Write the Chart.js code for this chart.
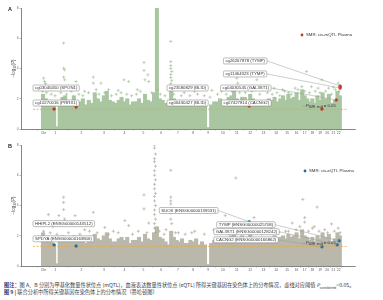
<!DOCTYPE html>
<html>
<head>
<meta charset="utf-8">
<script src="https://cdn.jsdelivr.net/npm/chart.js@4.4.1/dist/chart.umd.min.js"></script>
<style>
  body { margin: 0; width: 383px; height: 300px; background: #fff; overflow: hidden; position: relative; }
  canvas { position: absolute; left: 0; }
  #chartA { top: 0; }
  #chartB { top: 137px; }
  .cap { position: absolute; left: 4px; white-space: nowrap; font-family: 'Noto Sans CJK SC', sans-serif;
         font-size: 10.4px; line-height: 12px; transform: scale(0.5); transform-origin: 0 0; color: #3a3a3a; }
  .cap b { color: #1d3f73; font-weight: 700; }
  .cap sub { font-size: 7px; }
</style>
</head>
<body>
<canvas id="chartA" width="383" height="137"></canvas>
<canvas id="chartB" width="383" height="137"></canvas>
<div class="cap" style="top:282px"><b>图注：</b>图 A、B 分别为甲基化数量性状位点 (mQTL)，血液表达数量性状位点 (eQTL) 所得关键基因在染色体上的分布情况，虚线对应阈值 <i>P</i><sub>combined</sub>=0.05。</div>
<div class="cap" style="top:289px"><b>图 9 |</b> 联合分析中所得关键基因在染色体上的分布情况（曼哈顿图）</div>

<script>
// Chromosome layout (cumulative genome position, arbitrary units)
const chromNames = ['1','2','3','4','5','6','7','8','9','10','11','12','13','14','15','16','17','18','19','20','21','22'];
const chromStart = [0, 29, 54, 76, 97, 116, 134, 151, 166, 182, 197, 211, 225, 239, 251, 262, 271, 279, 287, 295, 302, 308];
const chromEnd = 313;
const yTicks = [0, 2, 4, 6, 8];
const threshold = 1.3;   // -log10(0.05)

// Panel A: dense mQTL mass, max -log10(P) per bin, per chromosome
const massA = [
    [2.3, 2.0, 1.8, 1.9, 1.5, 0.15, 1.8, 2.1, 2.2, 1.9],
    [1.9, 2.2, 1.7, 1.8, 2.0, 1.6, 1.9, 1.7],
    [2.4, 2.0, 1.8, 2.2, 2.5, 1.9, 1.8],
    [1.7, 1.9, 2.1, 1.8, 2.0, 1.6, 1.8],
    [1.8, 2.0, 1.7, 2.3, 1.9, 1.8],
    [2.4, 8.0, 2.0, 1.9, 1.7, 1.5],
    [2.6, 2.0, 1.8, 1.7, 1.9, 1.6],
    [1.6, 1.8, 1.7, 1.9, 1.5],
    [1.7, 1.5, 0.1, 1.6, 1.8],
    [1.8, 2.0, 1.7, 1.9, 2.1],
    [2.2, 2.6, 2.0, 1.9, 2.1],
    [2.1, 1.9, 2.3, 2.0, 1.8],
    [1.7, 1.9, 1.6, 1.8, 2.0],
    [1.9, 2.1, 1.8, 2.0],
    [2.2, 1.9, 2.3, 2.0],
    [2.1, 2.4, 1.9],
    [2.6, 2.2, 2.0],
    [1.8, 2.0, 1.7],
    [2.2, 1.9, 2.4],
    [2.0, 2.3],
    [1.7, 1.9],
    [2.5, 2.2]
];
// Panel A: individual CpG sites above the mass
const crossA = [
    [2,3.36],[3,3.14],[4,3.0],[7,2.6],[18,2.6],[23,5.68],[23,4.02],[24,3.91],[23,3.43],[24,3.25],
    [36,3.14],[45,2.5],[54,3.43],[54,3.03],[62,3.03],[70,2.6],[80,2.55],[86,3.25],[91,3.14],[100,2.6],
    [107,4.4],[107,3.87],[108,3.25],[112,3.14],[111,3.58],[135,5.79],[135,4.46],[135,4.2],[135,4.0],[136,3.8],
    [135,3.6],[135,3.4],[136,3.2],[135,3.0],[140,2.6],[152,2.8],[160,2.5],[178,2.55],[195,2.6],[204,3.36],
    [205,3.03],[210,2.7],[225,3.25],[232,2.6],[243,2.7],[252,2.6],[265,2.7],[277,3.8],[282,2.8],[293,3.25],
    [300,2.7],[305,2.76],[310,3.03],
    [1,2.5],[5,2.4],[10,2.3],[14,2.2],[20,2.4],[26,2.3],[31,2.5],[39,2.3],[43,2.2],[49,2.4],
    [57,2.6],[60,2.3],[66,2.4],[73,2.2],[78,2.3],[83,2.4],[89,2.3],[94,2.2],[99,2.3],[103,2.5],
    [115,2.4],[121,2.6],[124,2.3],[129,2.2],[138,2.3],[146,2.2],[149,2.4],[155,2.2],[163,2.3],[170,2.2],
    [176,2.1],[184,2.3],[188,2.5],[193,2.3],[199,2.5],[201,2.8],[207,2.4],[213,2.4],[216,2.6],[220,2.5],
    [228,2.3],[236,2.4],[241,2.3],[246,2.4],[249,2.2],[254,2.5],[258,2.4],[261,2.3],[268,2.6],[272,2.8],
    [275,2.5],[280,2.4],[286,2.5],[289,2.7],[291,2.4],[297,2.5],[303,2.3],[307,2.6],[311,2.5]
];
// Panel A: SMR significant CpGs
const hitsA = [[13,1.32],[36,1.45],[217,1.52],[293,1.32],[308,1.92],[312,2.84],[312,2.78],[312,2.71]];
const notesA = [
    { text: 'cg03046450 (SPON1)',   x: -9,  y: 2.71 },
    { text: 'cg10270016 (PRRX1)',   x: -9,  y: 1.72 },
    { text: 'cg23580829 (BLID)',    x: 131, y: 2.71 },
    { text: 'cg06430427 (BLID)',    x: 131, y: 1.72 },
    { text: 'cg26267878 (TYMP)',    x: 190, y: 4.5,  to: [312, 2.84] },
    { text: 'cg11464323 (TYMP)',    x: 190, y: 3.64, to: [312, 2.71] },
    { text: 'cg04030545 (GAL3ST1)', x: 187, y: 2.71, to: [308, 1.92] },
    { text: 'cg07427814 (CACNG2)',  x: 188, y: 1.72 }
];

// Panel B: dense eQTL mass
const massB = [
    [2.2, 1.9, 1.7, 1.8, 1.4, 0.15, 1.7, 2.0, 1.9, 1.8],
    [1.8, 2.0, 1.6, 1.7, 1.9, 1.5, 1.8, 1.6],
    [2.1, 1.8, 1.7, 2.0, 2.2, 1.8, 1.6],
    [1.6, 1.8, 1.9, 1.7, 1.9, 1.5, 1.7],
    [1.7, 1.9, 1.6, 2.1, 1.8, 1.7],
    [2.2, 2.6, 1.9, 1.8, 1.6, 1.4],
    [2.3, 1.9, 1.7, 1.6, 1.8, 1.5],
    [1.5, 1.7, 1.6, 1.8, 1.4],
    [1.6, 1.4, 0.1, 1.5, 1.7],
    [1.7, 1.9, 1.6, 1.8, 1.9],
    [2.0, 2.3, 1.9, 1.8, 2.0],
    [1.9, 1.8, 2.1, 1.9, 1.7],
    [1.6, 1.8, 1.5, 1.7, 1.9],
    [1.8, 2.0, 1.7, 1.9],
    [2.0, 1.8, 2.1, 1.9],
    [2.0, 2.2, 1.8],
    [2.4, 2.0, 1.9],
    [1.7, 1.9, 1.6],
    [2.0, 1.8, 2.2],
    [1.9, 2.1],
    [1.6, 1.8],
    [2.2, 2.0]
];
const crossB = [
    [7,3.4],[18,3.33],[23,4.55],[23,4.2],[23,3.73],[24,3.1],[35,3.33],[12,2.6],[54,3.55],[66,2.55],
    [87,3.0],[91,2.67],[107,4.7],[107,3.78],[112,2.84],
    [118,8.0],[118,7.8],[119,7.4],[118,7.1],[118,6.9],[119,6.6],[118,6.3],[118,6.0],[119,5.7],[118,5.4],
    [118,5.1],[119,4.8],[118,4.6],[118,4.3],[119,4.0],[118,3.7],[118,3.4],[119,3.1],[118,2.8],[118,2.5],[119,2.2],
    [135,6.33],[135,4.55],[135,4.3],[135,4.1],[136,3.8],[135,3.5],[135,3.1],[136,2.8],[143,2.2],[192,3.33],
    [203,5.82],[222,3.2],[262,2.84],[273,4.4],[275,3.2],[275,2.9],[288,3.9],[303,2.78],[312,2.2],
    [45,2.4],[75,2.3],[130,2.4],[160,2.3],[180,2.4],[240,2.5],[255,2.3],[285,2.6],[296,2.4],
    [2,2.3],[9,2.2],[16,2.1],[28,2.2],[40,2.1],[50,2.3],[58,2.2],[70,2.1],[80,2.2],[95,2.1],
    [101,2.3],[110,2.2],[123,2.3],[128,2.1],[140,2.2],[150,2.1],[157,2.2],[170,2.1],[186,2.2],[196,2.1],
    [200,2.4],[208,2.2],[214,2.3],[230,2.1],[236,2.2],[248,2.2],[258,2.3],[266,2.4],[270,2.6],[279,2.3],
    [283,2.5],[290,2.3],[299,2.2],[306,2.3],[310,2.5]
];
const hitsB = [[13,1.4],[36,1.33],[217,2.93],[293,1.27],[309,1.4],[311,1.67]];
const notesB = [
    { text: 'HHIPL2 (ENSG00000143512)',  x: -9,  y: 2.8 },
    { text: 'SPDYA (ENSG00000163806)',   x: -9,  y: 1.8 },
    { text: 'SUOX (ENSG00000139531)',    x: 123, y: 3.67, to: [217, 2.93] },
    { text: 'TYMP (ENSG00000025708)',    x: 183, y: 2.73, to: [311, 1.67] },
    { text: 'GAL3ST1 (ENSG00000128242)', x: 180, y: 2.27, to: [309, 1.4] },
    { text: 'CACNG2 (ENSG00000166862)',  x: 180, y: 1.73, to: [293, 1.27] }
];

// x tick positions: "Chr" at the start, then chromosome centres
const tickValues = [2].concat(chromStart.map((s, i) => (s + (chromStart[i + 1] || chromEnd)) / 2));
const tickLabels = ['Chr'].concat(chromNames);

function buildMass(heights) {
    const pts = [];
    heights.forEach((arr, c) => {
        const s = chromStart[c], e = chromStart[c + 1] || chromEnd;
        const w = (e - s) / arr.length;
        arr.forEach((h, j) => pts.push({ x: s + (j + 0.5) * w, y: h }));
    });
    return pts;
}
const toPts = arr => arr.map(p => ({ x: p[0], y: p[1] }));

const FONT = '"Liberation Sans", Arial, sans-serif';

function overlay(cfg) {
    return {
        id: 'overlay',
        afterDatasetsDraw(chart) {
            const { ctx, chartArea: ca, scales: { x, y } } = chart;
            ctx.save();
            // connector lines
            ctx.font = `4.3px ${FONT}`;
            ctx.strokeStyle = '#9a9a9a';
            ctx.lineWidth = 0.5;
            cfg.notes.forEach(n => {
                if (!n.to) return;
                const w = ctx.measureText(n.text).width + 4;
                ctx.beginPath();
                ctx.moveTo(x.getPixelForValue(n.x) + w, y.getPixelForValue(n.y));
                ctx.lineTo(x.getPixelForValue(n.to[0]), y.getPixelForValue(n.to[1]));
                ctx.stroke();
            });
            // label boxes
            cfg.notes.forEach(n => {
                const w = ctx.measureText(n.text).width + 4;
                const bx = x.getPixelForValue(n.x), by = y.getPixelForValue(n.y);
                ctx.beginPath();
                ctx.roundRect(bx, by - 3, w, 6, 1.2);
                ctx.fillStyle = '#fff';
                ctx.fill();
                ctx.strokeStyle = '#7a7a7a';
                ctx.stroke();
                ctx.fillStyle = '#333';
                ctx.textBaseline = 'middle';
                ctx.fillText(n.text, bx + 2, by + 0.3);
            });
            // threshold label
            let tx = x.getPixelForValue(276), ty = y.getPixelForValue(1.55);
            ctx.strokeStyle = '#8a8a8a';
            ctx.beginPath(); ctx.moveTo(tx - 3, ty + 0.5); ctx.lineTo(tx - 0.5, ty + 0.5); ctx.stroke();
            ctx.fillStyle = '#333';
            ctx.font = `italic 4.3px ${FONT}`;
            ctx.fillText('P', tx, ty);
            tx += ctx.measureText('P').width;
            ctx.font = `3px ${FONT}`;
            ctx.fillText('SMR_multi', tx, ty + 1.3);
            tx += ctx.measureText('SMR_multi').width + 0.6;
            ctx.font = `4.3px ${FONT}`;
            ctx.fillText('= 0.05', tx, ty);
            // legend
            ctx.fillStyle = cfg.hitColor;
            ctx.beginPath(); ctx.arc(cfg.legend[0], cfg.legend[1], 1.4, 0, Math.PI * 2); ctx.fill();
            ctx.fillStyle = '#333';
            ctx.font = `4.3px ${FONT}`;
            ctx.fillText(cfg.legendText, cfg.legend[0] + 4, cfg.legend[1] + 0.3);
            // panel letter
            ctx.font = `bold 5.5px ${FONT}`;
            ctx.fillStyle = '#222';
            ctx.fillText(cfg.letter, 8, 9);
            // y title: -log10(P)
            ctx.translate(14, (ca.top + ca.bottom) / 2);
            ctx.rotate(-Math.PI / 2);
            ctx.font = `4.5px ${FONT}`;
            const parts = [['−log', `4.5px ${FONT}`, 0], ['10', `3px ${FONT}`, 1.2], ['(', `4.5px ${FONT}`, 0], ['P', `italic 4.5px ${FONT}`, 0], [')', `4.5px ${FONT}`, 0]];
            let total = 0;
            parts.forEach(p => { ctx.font = p[1]; total += ctx.measureText(p[0]).width; });
            let px = -total / 2;
            ctx.fillStyle = '#444';
            parts.forEach(p => { ctx.font = p[1]; ctx.fillText(p[0], px, p[2]); px += ctx.measureText(p[0]).width; });
            ctx.restore();
        }
    };
}

function makeChart(id, mass, crosses, hits, cfg) {
    return new Chart(document.getElementById(id), {
        type: 'scatter',
        data: {
            datasets: [
                {
                    type: 'bar',
                    data: buildMass(mass),
                    backgroundColor: cfg.massColor,
                    borderWidth: 0,
                    barThickness: 3.4,
                    order: 4
                },
                {
                    data: toPts(crosses),
                    pointStyle: 'cross',
                    pointRadius: 1.6,
                    borderWidth: 0.6,
                    borderColor: cfg.crossColor,
                    order: 3
                },
                {
                    type: 'line',
                    data: [{ x: -9, y: threshold }, { x: 320, y: threshold }],
                    borderColor: '#f0a430',
                    borderWidth: 0.8,
                    borderDash: [2, 1.5],
                    pointRadius: 0,
                    order: 2
                },
                {
                    data: toPts(hits),
                    pointStyle: 'circle',
                    pointRadius: 1.5,
                    backgroundColor: cfg.hitColor,
                    borderColor: cfg.hitColor,
                    borderWidth: 0.3,
                    order: 1
                }
            ]
        },
        options: {
            responsive: false,
            animation: false,
            devicePixelRatio: 1,
            layout: { padding: { left: 0, right: 28, top: 8, bottom: 0 } },
            plugins: { legend: { display: false }, tooltip: { enabled: false } },
            scales: {
                x: {
                    type: 'linear',
                    min: -14,
                    max: 320,
                    afterBuildTicks: s => { s.ticks = tickValues.map(v => ({ value: v })); },
                    afterFit: s => { s.height = 8; },
                    grid: { drawOnChartArea: false, drawTicks: true, tickLength: 1.5, color: '#777', lineWidth: 0.5 },
                    border: { color: '#666', width: 0.8 },
                    ticks: {
                        callback: (v, i) => tickLabels[i],
                        autoSkip: false,
                        maxRotation: 0,
                        padding: 1,
                        color: '#555',
                        font: { size: 3.3, family: FONT }
                    }
                },
                y: {
                    min: 0,
                    max: 8,
                    afterBuildTicks: s => { s.ticks = yTicks.map(v => ({ value: v })); },
                    afterFit: s => { s.width = 21; },
                    grid: { drawOnChartArea: false, drawTicks: true, tickLength: 1.5, color: '#777', lineWidth: 0.5 },
                    border: { color: '#666', width: 0.8 },
                    ticks: { padding: 1, color: '#666', font: { size: 3.2, family: FONT } }
                }
            }
        },
        plugins: [overlay(cfg)]
    });
}

makeChart('chartA', massA, crossA, hitsA, {
    massColor: '#a9c6a1', crossColor: '#9bbd92', hitColor: '#c0392b',
    notes: notesA, legend: [302, 35], legendText: 'SMR: cis-mQTL Plasma', letter: 'A'
});
makeChart('chartB', massB, crossB, hitsB, {
    massColor: '#bab8aa', crossColor: '#a9a697', hitColor: '#1f6fa3',
    notes: notesB, legend: [305, 34], legendText: 'SMR: cis-eQTL Plasma', letter: 'B'
});
</script>
</body>
</html>
